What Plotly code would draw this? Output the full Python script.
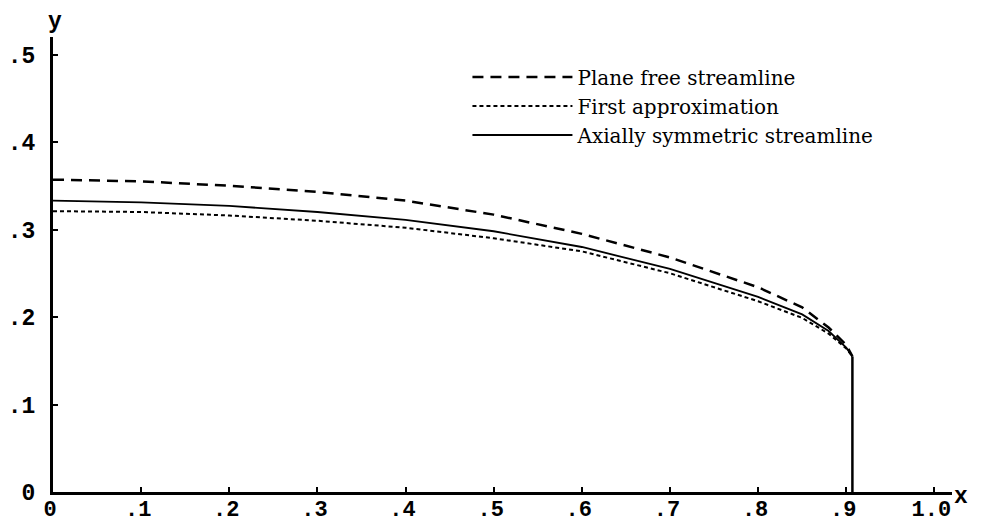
import plotly.graph_objects as go

# Data
x_pts = [0.0, 0.1, 0.2, 0.3, 0.4, 0.5, 0.6, 0.7, 0.8, 0.85, 0.88, 0.9, 0.907]
y_plane = [0.357, 0.355, 0.350, 0.343, 0.333, 0.317, 0.295, 0.268, 0.234, 0.211, 0.188, 0.168, 0.155]
y_first = [0.321, 0.320, 0.316, 0.310, 0.302, 0.290, 0.275, 0.250, 0.218, 0.199, 0.181, 0.164, 0.155]
y_axial = [0.333, 0.331, 0.327, 0.320, 0.311, 0.298, 0.280, 0.255, 0.223, 0.203, 0.184, 0.165, 0.155]
x_edge = [0.907, 0.907]
y_edge = [0.155, 0.0]

x_ticks = [0.0, 0.1, 0.2, 0.3, 0.4, 0.5, 0.6, 0.7, 0.8, 0.9, 1.0]
x_tick_text = ["0", ".1", ".2", ".3", ".4", ".5", ".6", ".7", ".8", ".9", "1.0"]
y_ticks = [0.0, 0.1, 0.2, 0.3, 0.4, 0.5]
y_tick_text = ["0", ".1", ".2", ".3", ".4", ".5"]

names = ["Plane free streamline", "First approximation", "Axially symmetric streamline"]

fig = go.Figure()
fig.add_trace(go.Scatter(x=x_pts, y=y_plane, mode="lines", name=names[0],
                         line=dict(color="black", width=2.5, dash="11px,7px")))
fig.add_trace(go.Scatter(x=x_pts, y=y_first, mode="lines", name=names[1],
                         line=dict(color="black", width=2, dash="4px,3px")))
fig.add_trace(go.Scatter(x=x_pts, y=y_axial, mode="lines", name=names[2],
                         line=dict(color="black", width=1.8)))
fig.add_trace(go.Scatter(x=x_edge, y=y_edge, mode="lines", showlegend=False,
                         line=dict(color="black", width=2.5)))

tick_font = dict(family="Liberation Mono", size=23, color="black", weight="bold")
xtick_font = dict(family="Liberation Mono", size=22, color="black", weight="bold")

fig.update_layout(
    width=974, height=515,
    margin=dict(l=45, r=30, t=29, b=31, autoexpand=False),
    paper_bgcolor="white", plot_bgcolor="white",
    showlegend=True,
    legend=dict(x=0.461, y=0.955, xanchor="left", yanchor="top",
                itemwidth=100, bgcolor="rgba(0,0,0,0)",
                font=dict(family="DejaVu Serif", size=20, color="black"),
                tracegroupgap=0),
    xaxis=dict(range=[0, 1.02], showgrid=False, zeroline=False, automargin=False,
               showline=True, linecolor="black", linewidth=3,
               ticks="inside", ticklen=5, tickwidth=1.5, tickcolor="black",
               ticklabelstandoff=-5, ticklabelshift=-3,
               tickvals=x_ticks, ticktext=x_tick_text, tickfont=xtick_font),
    yaxis=dict(range=[0, 0.52], showgrid=False, zeroline=False, automargin=False,
               showline=True, linecolor="black", linewidth=3,
               ticks="inside", ticklen=5, tickwidth=1.5, tickcolor="black",
               ticklabelstandoff=10,
               tickvals=y_ticks, ticktext=y_tick_text, tickfont=tick_font),
    annotations=[
        dict(text="y", xref="paper", yref="paper", x=0.002, y=1.0, yanchor="bottom",
             xanchor="center", showarrow=False, font=tick_font),
        dict(text="x", xref="paper", yref="paper", x=1.0, y=-0.01, xanchor="left",
             yanchor="middle", showarrow=False, font=tick_font),
    ],
)

fig.write_html("out.html")
